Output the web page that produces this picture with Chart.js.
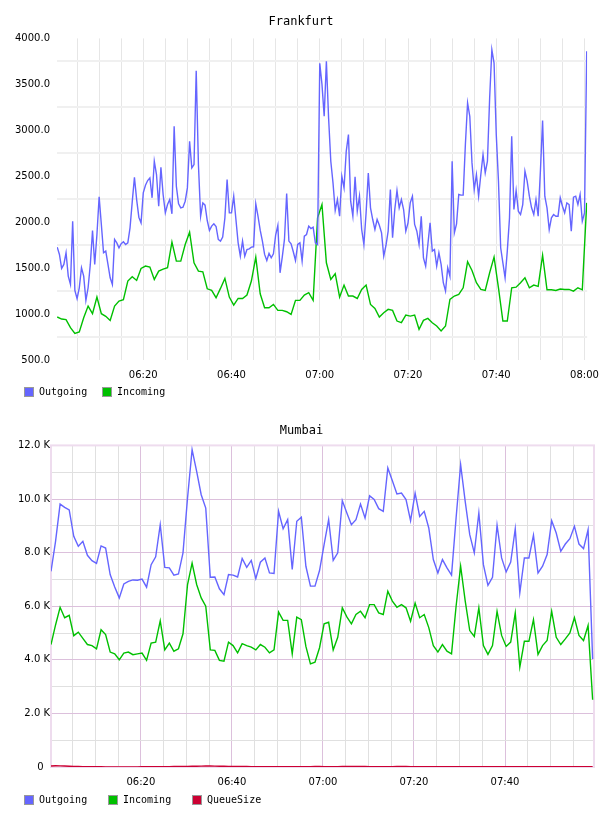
<!DOCTYPE html>
<html>
<head>
<meta charset="utf-8">
<title>Frankfurt / Mumbai</title>
<script src="https://cdn.jsdelivr.net/npm/chart.js@4.4.1/dist/chart.umd.min.js"></script>
<style>
  html, body { margin: 0; padding: 0; background: #fff; }
  .panel { position: relative; width: 608px; height: 408px; }
  canvas { display: block; }
  .legend {
      position: absolute; left: 24px; top: 386px;
      font: 10px 'DejaVu Sans Mono', monospace; color: #000;
      white-space: nowrap; line-height: 12px;
  }
  .legend .item { display: inline-block; vertical-align: top; }
  .legend .box {
      display: inline-block; width: 10px; height: 10px; box-sizing: border-box;
      border: 1px solid #999; vertical-align: top; margin: 1px 5px 0 0;
  }
</style>
</head>
<body>
<div class="panel">
  <canvas id="frankfurtChart" width="608" height="408"></canvas>
  <div class="legend" id="frankfurtLegend"></div>
</div>
<div class="panel">
  <canvas id="mumbaiChart" width="608" height="408"></canvas>
  <div class="legend" id="mumbaiLegend"></div>
</div>
<script>
// times are minutes after 06:00

// Frankfurt - outgoing sampled every 30 s, incoming every minute
const FRA_OUT_START = 0.5, FRA_OUT_STEP = 0.5;
const fraOutgoing = [
    1728, 1649, 1497, 1540, 1667, 1413, 1323, 2011, 1257, 1167,
    1286, 1504, 1413, 1149, 1286, 1540, 1910, 1540, 1866, 2275,
    1975, 1667, 1685, 1540, 1395, 1323, 1812, 1775, 1721, 1765,
    1786, 1757, 1775, 1938, 2221, 2489, 2246, 2054, 1993, 2319,
    2402, 2453, 2482, 2265, 2663, 2518, 2174, 2598, 2301, 2102,
    2192, 2246, 2091, 3043, 2391, 2199, 2156, 2163, 2228, 2373,
    2880, 2591,
    2627, 3649, 2627, 2065, 2210, 2185, 2018, 1910, 1957, 1982,
    1953, 1812, 1794, 1837, 2047, 2464, 2101, 2101, 2283, 2029,
    1775, 1630, 1794, 1630, 1703, 1710, 1728, 1732, 2199, 2065,
    1913, 1794, 1649, 1583, 1660, 1612, 1656, 1859, 1964, 1449,
    1620, 1812, 2312, 1794, 1765, 1678, 1583, 1757, 1775, 1576,
    1848, 1866, 1957, 1931, 1946, 1775, 1757, 3730, 3500,
    3152, 3750, 3134, 2663, 2428, 2127, 2246, 2065, 2500, 2373,
    2772, 2953, 2228, 2065, 2493, 2120, 2283, 1920, 1757, 2101,
    2536, 2156, 2029, 1920, 2029, 1967, 1884, 1630, 1746, 1902,
    2355, 1830, 2138, 2345, 2156, 2246, 2138, 1902, 1993, 2210,
    2283, 1975, 1902, 1757, 2065, 1612, 1522, 1757, 1993, 1685,
    1703, 1522, 1667, 1540, 1341, 1250, 1504, 1413, 2663, 1884,
    1982, 2301,
    2294, 2294, 2844, 3297, 3152, 2645, 2355, 2518, 2283, 2518,
    2736, 2536, 2663, 3351, 3877, 3732, 2953, 2446, 1721, 1558,
    1395, 1685, 2047, 2935, 2138, 2345, 2120, 2083, 2192, 2555,
    2446, 2283, 2156, 2083, 2246, 2065, 2555, 3105, 2283, 2156,
    1920, 2047, 2083, 2065, 2065, 2265, 2174, 2102, 2210, 2192,
    1902, 2272, 2283, 2192, 2301, 2011, 2100, 3860
];
const FRA_IN_START = 0.5, FRA_IN_STEP = 1;
const fraIncoming = [
    968, 946, 939, 852, 790, 805, 960, 1087, 1004, 1185,
    1004, 975, 931, 1087, 1141, 1156, 1359, 1406, 1366, 1497,
    1522, 1511, 1377, 1467, 1489, 1504, 1783, 1576, 1576, 1757,
    1891,
    1558, 1467, 1460, 1275, 1257, 1178, 1279, 1388, 1185, 1098,
    1170, 1170, 1207, 1359, 1620, 1221, 1069, 1069, 1105, 1040,
    1040, 1025, 996, 1149, 1149, 1207, 1232, 1149, 2047, 2192,
    1558, 1377, 1439, 1185, 1315, 1196, 1196, 1170, 1268, 1315,
    1105, 1062, 968, 1015, 1051, 1040, 924, 906, 989, 978,
    989, 834, 931, 953, 906, 870, 815, 870, 1160, 1196,
    1214, 1286, 1569, 1475, 1341, 1268, 1257, 1449, 1620, 1286,
    924, 924, 1286, 1293, 1341, 1395, 1286, 1315, 1301, 1641,
    1264, 1264, 1257, 1272, 1268, 1268, 1250, 1286, 1264, 2210
];

// Mumbai - one sample a minute, values in thousands
const MUM_START = 0.25, MUM_STEP = 1;
const mumOutgoing = [
    7.30, 8.42, 9.81, 9.69, 9.59, 8.61, 8.24, 8.42, 7.90, 7.70,
    7.60, 8.25, 8.17, 7.18, 6.72, 6.31, 6.83, 6.93, 6.98, 6.97,
    7.01, 6.71, 7.55, 7.84, 9.04, 7.45, 7.43, 7.16, 7.20, 7.99,
    10.04, 11.84, 11.03, 10.16, 9.66, 7.08, 7.09, 6.65, 6.43, 7.18,
    7.16, 7.09, 7.78, 7.45, 7.71, 7.03, 7.64, 7.80, 7.24, 7.22,
    9.54, 8.89, 9.23, 7.37, 9.17, 9.32,
    7.49, 6.75, 6.75, 7.33, 8.30, 9.23, 7.71, 7.99, 9.94, 9.48,
    9.04, 9.23, 9.81, 9.29, 10.12, 9.98, 9.64, 9.54, 11.16, 10.68,
    10.19, 10.22, 9.98, 9.19, 10.22, 9.35, 9.54, 8.92, 7.74, 7.24,
    7.74, 7.43, 7.16, 9.29, 11.28, 9.91, 8.67, 7.99, 9.48, 7.55,
    6.78, 7.08, 9.02, 7.80, 7.28, 7.65, 8.89, 6.50, 7.80, 7.80,
    8.65, 7.24, 7.49, 7.93, 9.19, 8.73, 8.05, 8.32, 8.52, 8.98,
    8.32, 8.15, 8.86, 4.03
];
const mumIncoming = [
    4.57, 5.30, 5.96, 5.57, 5.66, 4.90, 5.03, 4.80, 4.57, 4.53,
    4.41, 5.12, 4.94, 4.29, 4.22, 4.00, 4.25, 4.29, 4.19, 4.22,
    4.25, 3.98, 4.62, 4.66, 5.45, 4.37, 4.62, 4.32, 4.41, 4.97,
    6.81, 7.61, 6.81, 6.31, 6.00, 4.37, 4.35, 3.98, 3.95, 4.66,
    4.53, 4.26, 4.60, 4.53, 4.47, 4.37, 4.57, 4.47, 4.26, 4.37,
    5.78, 5.47, 5.47, 4.22, 5.59, 5.50,
    4.50, 3.85, 3.91, 4.45, 5.34, 5.40, 4.37, 4.84, 5.94, 5.60,
    5.34, 5.69, 5.81, 5.57, 6.06, 6.06, 5.75, 5.69, 6.56, 6.19,
    5.96, 6.06, 5.94, 5.44, 6.12, 5.57, 5.69, 5.20, 4.53, 4.29,
    4.57, 4.32, 4.22, 6.00, 7.49, 6.20, 5.09, 4.87, 5.94, 4.53,
    4.20, 4.53, 5.81, 4.91, 4.50, 4.66, 5.75, 3.73, 4.69, 4.69,
    5.50, 4.20, 4.53, 4.72, 5.81, 4.84, 4.57, 4.78, 5.00, 5.57,
    4.91, 4.72, 5.28, 2.51
];
const mumQueue = [
    0.040, 0.045, 0.042, 0.038, 0.030, 0.025, 0.020, 0.015, 0.012, 0.010,
    0.008, 0.008, 0.006, 0.006, 0.005, 0.005, 0.005, 0.005, 0.006, 0.006,
    0.008, 0.008, 0.010, 0.010, 0.012, 0.012, 0.015, 0.018, 0.020, 0.022,
    0.025, 0.028, 0.030, 0.032, 0.035, 0.035, 0.032, 0.030, 0.028, 0.025,
    0.022, 0.020, 0.018, 0.016, 0.015, 0.014, 0.012, 0.012, 0.010, 0.010,
    0.010, 0.010, 0.012, 0.012, 0.014, 0.014, 0.015, 0.015, 0.016, 0.016,
    0.015, 0.014, 0.014, 0.015, 0.016, 0.018, 0.020, 0.020, 0.018, 0.016,
    0.015, 0.014, 0.012, 0.012, 0.012, 0.014, 0.016, 0.018, 0.016, 0.014,
    0.012, 0.010, 0.010, 0.010, 0.012, 0.012, 0.012, 0.010, 0.010, 0.010,
    0.010, 0.010, 0.010, 0.012, 0.012, 0.014, 0.014, 0.012, 0.012, 0.010,
    0.010, 0.010, 0.010, 0.010, 0.012, 0.012, 0.010, 0.010, 0.010, 0.010,
    0.010, 0.010, 0.010, 0.010, 0.010, 0.012, 0.012, 0.010, 0.010, 0.010
];

// axis ticks
const gridMinutes = [5, 10, 15, 20, 25, 30, 35, 40, 45, 50, 55, 60,
                     65, 70, 75, 80, 85, 90, 95, 100, 105, 110, 115, 120];
const labelMinutes = [20, 40, 60, 80, 100, 120];
const timeLabels = ['06:20', '06:40', '07:00', '07:20', '07:40', '08:00'];
const fraYTicks = [500, 750, 1000, 1250, 1500, 1750, 2000, 2250, 2500,
                   2750, 3000, 3250, 3500, 3750, 4000];
const mumYTicks = [0, 1, 2, 3, 4, 5, 6, 7, 8, 9, 10, 11, 12];

const BLUE = '#6565ff';
const GREEN = '#00c000';
const RED = '#cc0033';

const tickFont = { family: 'DejaVu Sans', size: 10 };

function toPoints(values, start, step) {
    return values.map((v, i) => ({ x: start + i * step, y: v }));
}

function lineSet(label, values, start, step, color) {
    return {
        label: label,
        data: toPoints(values, start, step),
        borderColor: color,
        backgroundColor: color,
        borderWidth: 1.4,
        pointRadius: 0,
        tension: 0
    };
}

function timeAxis(min, max, gridColor) {
    return {
        type: 'linear',
        min: min,
        max: max,
        afterBuildTicks(axis) {
            axis.ticks = gridMinutes.filter(m => m >= min && m <= max).map(m => ({ value: m }));
        },
        afterFit(axis) { axis.height = 24; },
        ticks: {
            autoSkip: false,
            maxRotation: 0,
            padding: 9,
            color: '#000',
            font: tickFont,
            callback: v => {
                const i = labelMinutes.indexOf(v);
                return i < 0 ? '' : timeLabels[i];
            }
        },
        grid: { color: gridColor, drawTicks: false },
        border: { display: false }
    };
}

function titleOpts(text, top, bottom) {
    return {
        display: true,
        text: text,
        color: '#000',
        font: { family: 'DejaVu Sans Mono', size: 12, weight: 'normal' },
        padding: { top: top, bottom: bottom }
    };
}

// legend as plain html under the canvas, one fixed-width cell per dataset
function buildLegend(chart, elId, cellWidth) {
    const el = document.getElementById(elId);
    el.innerHTML = '';
    chart.data.datasets.forEach(ds => {
        const item = document.createElement('span');
        item.className = 'item';
        item.style.width = cellWidth + 'px';
        const box = document.createElement('span');
        box.className = 'box';
        box.style.background = ds.borderColor;
        item.appendChild(box);
        item.appendChild(document.createTextNode(ds.label));
        el.appendChild(item);
    });
}

// thin frame round the plot area (Mumbai only)
const framePlugin = {
    id: 'frame',
    beforeDatasetsDraw(chart, args, opts) {
        const a = chart.chartArea;
        const ctx = chart.ctx;
        ctx.save();
        ctx.strokeStyle = opts.color;
        ctx.lineWidth = 2;
        ctx.strokeRect(a.left, a.top, a.right - a.left, a.bottom - a.top);
        ctx.restore();
    }
};

const fraChart = new Chart(document.getElementById('frankfurtChart'), {
    type: 'line',
    data: {
        datasets: [
            lineSet('Outgoing', fraOutgoing, FRA_OUT_START, FRA_OUT_STEP, BLUE),
            lineSet('Incoming', fraIncoming, FRA_IN_START, FRA_IN_STEP, GREEN)
        ]
    },
    options: {
        responsive: false,
        animation: false,
        layout: { padding: { left: 9, right: 15, top: 0, bottom: 24 } },
        scales: {
            x: timeAxis(0.45, 120.6, '#e6e6e6'),
            y: {
                min: 500,
                max: 4000,
                afterBuildTicks(axis) {
                    axis.ticks = fraYTicks.map(v => ({ value: v }));
                },
                afterFit(axis) { axis.width = 48; },
                ticks: {
                    padding: 7,
                    color: '#000',
                    font: tickFont,
                    callback: v => (v % 500 === 0 ? v.toFixed(1) : '')
                },
                grid: {
                    drawTicks: false,
                    lineWidth: 2,
                    color: ctx => (ctx.tick && ctx.tick.value % 500 !== 0 ? '#f0f0f0' : 'rgba(0,0,0,0)')
                },
                border: { display: false }
            }
        },
        plugins: {
            title: titleOpts('Frankfurt', 15, 9),
            legend: { display: false },
            tooltip: { enabled: false }
        }
    }
});
buildLegend(fraChart, 'frankfurtLegend', 78);

const mumChart = new Chart(document.getElementById('mumbaiChart'), {
    type: 'line',
    data: {
        datasets: [
            lineSet('Outgoing', mumOutgoing, MUM_START, MUM_STEP, BLUE),
            lineSet('Incoming', mumIncoming, MUM_START, MUM_STEP, GREEN),
            lineSet('QueueSize', mumQueue, MUM_START, MUM_STEP, RED)
        ]
    },
    options: {
        responsive: false,
        animation: false,
        layout: { padding: { left: 9, right: 14, top: 0, bottom: 25 } },
        scales: {
            x: timeAxis(0.25, 119.55, ctx => (ctx.tick && ctx.tick.value % 20 === 0 ? '#dcc0dc' : '#e0e0e0')),
            y: {
                min: 0,
                max: 12,
                afterBuildTicks(axis) {
                    axis.ticks = mumYTicks.map(v => ({ value: v }));
                },
                afterFit(axis) { axis.width = 42; },
                ticks: {
                    padding: 1,
                    color: '#000',
                    font: tickFont,
                    callback: v => (v === 0 ? '0  ' : (v % 2 === 0 ? v.toFixed(1) + ' K' : ''))
                },
                grid: {
                    drawTicks: false,
                    color: ctx => (ctx.tick && ctx.tick.value % 2 === 0 ? '#dcc0dc' : '#e0e0e0')
                },
                border: { display: false }
            }
        },
        plugins: {
            title: titleOpts('Mumbai', 16, 7),
            legend: { display: false },
            tooltip: { enabled: false },
            frame: { color: '#eedcee' }
        }
    },
    plugins: [framePlugin]
});
buildLegend(mumChart, 'mumbaiLegend', 84);
</script>
</body>
</html>
